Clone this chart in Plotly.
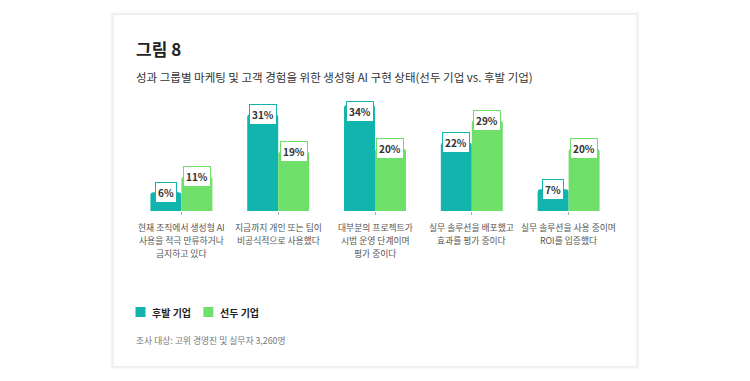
import plotly.graph_objects as go

categories = [
    "현재 조직에서 생성형 AI<br>사용을 적극 만류하거나<br>금지하고 있다",
    "지금까지 개인 또는 팀이<br>비공식적으로 사용했다",
    "대부분의 프로젝트가<br>시범 운영 단계이며<br>평가 중이다",
    "실무 솔루션을 배포했고<br>효과를 평가 중이다",
    "실무 솔루션을 사용 중이며<br>ROI를 입증했다",
]
laggards = [6, 31, 34, 22, 7]
leaders = [11, 19, 20, 29, 20]
series_names = ["후발 기업", "선두 기업"]
colors = ["#12b5ad", "#6edf69"]

FONT = "Noto Sans CJK KR"
W, H = 750, 381
L, R, T, B = 132.5, 617.5, 105, 211
pw, ph = R - L, B - T

def px(x):
    return (x - L) / pw

def py(y):
    return (B - y) / ph

ids = list(range(len(categories)))
fig = go.Figure()
for name, vals, c in zip(series_names, [laggards, leaders], colors):
    fig.add_trace(go.Bar(
        x=ids, y=vals, name=name,
        marker=dict(color=c, line=dict(width=0), cornerradius=3),
        hoverinfo="skip", showlegend=False,
    ))

ymax = 34
annotations = []
for k, (vals, c) in enumerate(zip([laggards, leaders], colors)):
    off = -0.16 if k == 0 else 0.16
    for i, v in enumerate(vals):
        yv = min(v, ymax - 2.1)
        annotations.append(dict(
            x=i + off, y=yv, xref="x", yref="y", text="<b>%d%%</b>" % v,
            showarrow=False, font=dict(family=FONT, size=10, color="#333333"),
            bgcolor="white", bordercolor=c, borderwidth=1, borderpad=2,
            xanchor="center", yanchor="middle",
        ))

# category labels, one text per line, 13px apart like the reference
for i, cat in enumerate(categories):
    for j, line in enumerate(cat.split("<br>")):
        annotations.append(dict(
            x=i, y=py(227 + 13 * j), xref="x", yref="paper", text=line,
            showarrow=False, xanchor="center", yanchor="middle",
            font=dict(family=FONT, size=8.8, color="#555555")))

annotations += [
    dict(x=px(134), y=py(48), xref="paper", yref="paper", text="<b>그림 8</b>",
         showarrow=False, xanchor="left", yanchor="middle",
         font=dict(family=FONT, size=17, color="#222222")),
    dict(x=px(134), y=py(77), xref="paper", yref="paper",
         text="성과 그룹별 마케팅 및 고객 경험을 위한 생성형 AI 구현 상태(선두 기업 vs. 후발 기업)",
         showarrow=False, xanchor="left", yanchor="middle",
         font=dict(family=FONT, size=11.5, color="#333333")),
    dict(x=px(134), y=py(340), xref="paper", yref="paper",
         text="조사 대상: 고위 경영진 및 실무자 3,260명",
         showarrow=False, xanchor="left", yanchor="middle",
         font=dict(family=FONT, size=8.8, color="#777777")),
]

shapes = []
for d, col in [(3, "#f8f8f8"), (2, "#f3f3f3"), (1, "#ededed")]:
    shapes.append(dict(type="rect", xref="paper", yref="paper",
                       x0=px(113 - d), x1=px(637 + d), y0=py(366 + d), y1=py(15 - d),
                       line=dict(width=0), fillcolor=col, layer="below"))
shapes.append(dict(type="rect", xref="paper", yref="paper",
                   x0=px(113), x1=px(637), y0=py(366), y1=py(15),
                   line=dict(width=0), fillcolor="white", layer="below"))

legend_x = [135, 203]
for name, c, lx in zip(series_names, colors, legend_x):
    shapes.append(dict(type="rect", xref="paper", yref="paper",
                       x0=px(lx), x1=px(lx + 10), y0=py(317), y1=py(307),
                       line=dict(width=0), fillcolor=c))
    annotations.append(dict(x=px(lx + 15), y=py(312), xref="paper", yref="paper",
                            text="<b>%s</b>" % name, showarrow=False,
                            xanchor="left", yanchor="middle",
                            font=dict(family=FONT, size=10, color="#222222")))

fig.update_layout(
    width=W, height=H,
    margin=dict(l=L, r=W - R, t=T, b=H - B, pad=0, autoexpand=False),
    paper_bgcolor="white", plot_bgcolor="rgba(0,0,0,0)",
    barmode="group", bargap=0.36, bargroupgap=0,
    font=dict(family=FONT),
    showlegend=False,
    xaxis=dict(tickmode="array", tickvals=ids, showticklabels=False,
               range=[-0.5, len(categories) - 0.5], automargin=False,
               showgrid=False, zeroline=False, showline=False,
               ticks="outside", ticklen=3, tickcolor="#aaaaaa", tickwidth=1),
    yaxis=dict(range=[0, ymax], visible=False, showgrid=False, zeroline=False,
               automargin=False),
    annotations=annotations, shapes=shapes,
)

fig.write_html("out.html", config={"displayModeBar": False},
               post_script="document.body.style.margin='0px';")
